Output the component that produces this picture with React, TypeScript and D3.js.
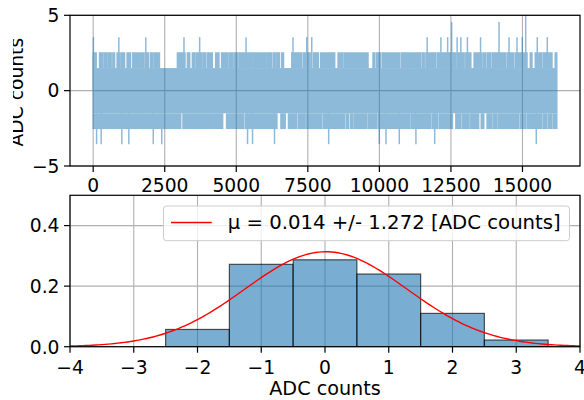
import React from 'react';
import * as d3 from 'd3';

const nSamples = 16200;
// sample ranges where the trace only reaches +1.5 (white notches on top of the band)
const topGaps: [number, number][] = [
  [105, 223], [338, 384], [467, 513], [628, 687], [746, 837], [941, 990], [1095, 1186],
  [1304, 1384], [1583, 1628], [1768, 1813], [1932, 2002], [2092, 2141], [2315, 2943],
  [3058, 3093], [3208, 3292], [3372, 3466], [3557, 3606], [3790, 3836], [3930, 3989],
  [4163, 4279], [4394, 4488], [4686, 4742], [4861, 4917], [5035, 5091], [5544, 5579],
  [6012, 6067], [6242, 6301], [6360, 6416], [6510, 6590], [6650, 6939], [7288, 7347],
  [7581, 7696], [7870, 7950], [8438, 8557], [8731, 8787], [9603, 9777], [9833, 9893],
  [10050, 10110], [10705, 10764], [11451, 11507], [11566, 11626], [11974, 12030],
  [12672, 12728], [12961, 13020], [13195, 13310], [13589, 13648], [13704, 13763],
  [13878, 13937], [14401, 14460], [14694, 14750], [15158, 15273], [15332, 15447],
  [15681, 15740], [16030, 16145],
];
// sample ranges where the trace only reaches -1.5
const bottomGaps: [number, number][] = [
  [1618, 1639], [1723, 1744], [3058, 3138], [4523, 4662], [5255, 5314], [6420, 6560],
  [6709, 6824], [7113, 7173], [7406, 7462], [7975, 8034], [8787, 8846], [8927, 8996],
  [9080, 9136], [9544, 9603], [9893, 9952], [11043, 11102], [11800, 11856], [12030, 12089],
  [12553, 12672], [12846, 12902], [13135, 13195], [13470, 13560], [13648, 13763],
  [13937, 13997], [14112, 14171], [14869, 14924], [15099, 15158], [15681, 15740],
  [15855, 15914], [16030, 16089],
];
// single samples going past +2.5: [sample, value]
const spikesUp: [number, number][] = [
  [7, 3.5], [896, 3.5], [1838, 3.5], [3173, 3.5], [3720, 3.5], [5342, 3.5], [6981, 3.5],
  [7462, 3.5], [7637, 3.5], [11671, 3.5], [12149, 3.5], [12386, 3.5], [12525, 4.5],
  [12717, 3.5], [12846, 3.5], [13076, 3.5], [13536, 3.5], [14181, 4.5], [14530, 3.5],
  [14809, 3.5], [14994, 3.5], [15113, 5.5], [15517, 3.5], [15866, 3.5],
];
// single samples going past -2.5: [sample, value]
const spikesDown: [number, number][] = [
  [119, -3.5], [279, -3.5], [1001, -3.5], [1245, -3.5], [2099, -3.5], [2396, -3.5],
  [5394, -3.5], [5568, -3.5], [6336, -3.5], [8229, -3.5], [9997, -3.5], [10231, -3.5],
  [10695, -3.5], [11277, -3.5], [11933, -3.5], [15482, -3.5],
];

// histogram (density) of the ADC values
const binEdges = [-2.5, -1.5, -0.5, 0.5, 1.5, 2.5, 3.5];
const binHeights = [0.057, 0.272, 0.287, 0.24, 0.11, 0.022];
const mu = 0.014;
const sigma = 1.272;
const legendLabel = 'μ = 0.014 +/- 1.272 [ADC counts]';

const topXTicks = [0, 2500, 5000, 7500, 10000, 12500, 15000];
const topYTicks = [-5, 0, 5];
const histXTicks = [-4, -3, -2, -1, 0, 1, 2, 3, 4];
const histYTicks = [0, 0.2, 0.4];

const W = 584;
const H = 400;
const C0 = '#1f77b4';
const GRID = '#b0b0b0';
const FONT = 18.7;
const TICK = 6;

const fmt = (v: number, digits = 0) => {
  const s = Math.abs(v).toFixed(digits);
  return v < 0 ? '\u2212' + s : s;
};

// complement of the gap list inside [start, end]
const keepSegments = (gaps: [number, number][], start: number, end: number) => {
  const out: [number, number][] = [];
  let cur = start;
  gaps.forEach(([a, b]) => {
    if (a > cur) out.push([cur, a]);
    cur = Math.max(cur, b);
  });
  if (cur < end) out.push([cur, end]);
  return out;
};

const App = () => {
  // top panel
  const top = { left: 70, right: 580, top: 15.3, bottom: 166 };
  const xs = d3.scaleLinear().domain([-810, 17010]).range([top.left, top.right]);
  const ys = d3.scaleLinear().domain([-5, 5]).range([top.bottom, top.top]);

  // bottom panel
  const bot = { left: 70, right: 580, top: 195.3, bottom: 346.7 };
  const xh = d3.scaleLinear().domain([-4, 4]).range([bot.left, bot.right]);
  const yh = d3.scaleLinear().domain([0, 0.5]).range([bot.bottom, bot.top]);

  const upper = keepSegments(topGaps, 0, nSamples - 1);
  const lower = keepSegments(bottomGaps, 0, nSamples - 1);

  const gauss = d3.range(-4, 4.001, 0.05).map((x) => [
    x,
    Math.exp(-0.5 * ((x - mu) / sigma) ** 2) / (sigma * Math.sqrt(2 * Math.PI)),
  ]);
  const gaussLine = d3
    .line<number[]>()
    .x((d) => xh(d[0]))
    .y((d) => yh(d[1]));

  const bars = binHeights.map((h, i) => ({ x0: binEdges[i], x1: binEdges[i + 1], h }));

  return (
    <svg
      width={W}
      height={H}
      style={{ position: 'absolute', left: 0, top: 0, background: '#fff' }}
      fontFamily="DejaVu Sans"
      fontSize={FONT}
    >
      <defs>
        <clipPath id="clipTop">
          <rect x={top.left} y={top.top} width={top.right - top.left} height={top.bottom - top.top} />
        </clipPath>
        <clipPath id="clipHist">
          <rect x={bot.left} y={bot.top} width={bot.right - bot.left} height={bot.bottom - bot.top} />
        </clipPath>
        <clipPath id="clipLabel">
          <rect x={13} y={0} width={57} height={H} />
        </clipPath>
      </defs>

      {/* ---------- top: raw trace ---------- */}
      <g stroke={GRID} strokeWidth={1.1}>
        {topXTicks.map((t) => (
          <line key={t} x1={xs(t)} x2={xs(t)} y1={top.top} y2={top.bottom} />
        ))}
        {topYTicks.map((t) => (
          <line key={t} x1={top.left} x2={top.right} y1={ys(t)} y2={ys(t)} />
        ))}
      </g>

      <g clipPath="url(#clipTop)" opacity={0.5} fill={C0} stroke={C0}>
        <rect
          x={xs(0) - 0.75}
          width={xs(nSamples - 1) - xs(0) + 1.5}
          y={ys(1.5)}
          height={ys(-1.5) - ys(1.5)}
          stroke="none"
        />
        {upper.map(([a, b], i) => (
          <rect
            key={'u' + i}
            x={xs(a) - 0.75}
            width={Math.max(xs(b) - xs(a), 0) + 1.5}
            y={ys(2.5) - 0.75}
            height={ys(1.5) - ys(2.5) + 0.75}
            stroke="none"
          />
        ))}
        {lower.map(([a, b], i) => (
          <rect
            key={'l' + i}
            x={xs(a) - 0.75}
            width={Math.max(xs(b) - xs(a), 0) + 1.5}
            y={ys(-1.5)}
            height={ys(-2.5) - ys(-1.5) + 0.75}
            stroke="none"
          />
        ))}
        {spikesUp.concat(spikesDown).map(([s, v], i) => (
          <line
            key={'s' + i}
            x1={xs(s)}
            x2={xs(s)}
            y1={ys(0)}
            y2={ys(v)}
            strokeWidth={1.5}
            strokeLinecap="square"
          />
        ))}
      </g>

      <rect
        x={top.left}
        y={top.top}
        width={top.right - top.left}
        height={top.bottom - top.top}
        fill="none"
        stroke="#000"
        strokeWidth={1.2}
      />
      <g stroke="#000" strokeWidth={1.2}>
        {topXTicks.map((t) => (
          <line key={t} x1={xs(t)} x2={xs(t)} y1={top.bottom} y2={top.bottom + TICK} />
        ))}
        {topYTicks.map((t) => (
          <line key={t} x1={top.left - TICK} x2={top.left} y1={ys(t)} y2={ys(t)} />
        ))}
      </g>
      <g fill="#000">
        {topXTicks.map((t) => (
          <text key={t} x={xs(t)} y={191.5} textAnchor="middle">
            {fmt(t)}
          </text>
        ))}
        {topYTicks.map((t) => (
          <text key={t} x={59.5} y={ys(t) + 6.8} textAnchor="end">
            {fmt(t)}
          </text>
        ))}
      </g>
      <g clipPath="url(#clipLabel)">
        <text
          transform={`translate(22.5, ${(top.top + top.bottom) / 2 + 1.5}) rotate(-90)`}
          textAnchor="middle"
          fill="#000"
        >
          ADC counts
        </text>
      </g>

      {/* ---------- bottom: histogram + gaussian ---------- */}
      <g stroke={GRID} strokeWidth={1.1}>
        {histXTicks.map((t) => (
          <line key={t} x1={xh(t)} x2={xh(t)} y1={bot.top} y2={bot.bottom} />
        ))}
        {histYTicks.map((t) => (
          <line key={t} x1={bot.left} x2={bot.right} y1={yh(t)} y2={yh(t)} />
        ))}
      </g>
      <g clipPath="url(#clipHist)">
        {bars.map((b, i) => (
          <rect
            key={i}
            x={xh(b.x0)}
            width={xh(b.x1) - xh(b.x0)}
            y={yh(b.h)}
            height={yh(0) - yh(b.h)}
            fill={C0}
            fillOpacity={0.6}
            stroke="#000"
            strokeOpacity={0.65}
            strokeWidth={1.2}
          />
        ))}
        <path d={gaussLine(gauss) || ''} fill="none" stroke="#ff0000" strokeWidth={1.4} />
      </g>
      <rect
        x={bot.left}
        y={bot.top}
        width={bot.right - bot.left}
        height={bot.bottom - bot.top}
        fill="none"
        stroke="#000"
        strokeWidth={1.2}
      />
      <g stroke="#000" strokeWidth={1.2}>
        {histXTicks.map((t) => (
          <line key={t} x1={xh(t)} x2={xh(t)} y1={bot.bottom} y2={bot.bottom + TICK} />
        ))}
        {histYTicks.map((t) => (
          <line key={t} x1={bot.left - TICK} x2={bot.left} y1={yh(t)} y2={yh(t)} />
        ))}
      </g>
      <g fill="#000">
        {histXTicks.map((t) => (
          <text key={t} x={xh(t)} y={373.5} textAnchor="middle">
            {fmt(t)}
          </text>
        ))}
        {histYTicks.map((t) => (
          <text key={t} x={59.5} y={yh(t) + 6.8} textAnchor="end">
            {fmt(t, 1)}
          </text>
        ))}
        <text x={(bot.left + bot.right) / 2} y={395} textAnchor="middle" fontSize={19.2}>
          ADC counts
        </text>
      </g>

      {/* legend */}
      <g>
        <rect
          x={163.5}
          y={206}
          width={406}
          height={34.7}
          rx={3}
          fill="#fff"
          fillOpacity={0.8}
          stroke="#cccccc"
          strokeWidth={1}
        />
        <line x1={171} x2={211.7} y1={222.5} y2={222.5} stroke="#ff0000" strokeWidth={1.4} />
        <text x={227.7} y={229.3} fill="#000" fontSize={19.7}>
          {legendLabel}
        </text>
      </g>
    </svg>
  );
};

export default App;
